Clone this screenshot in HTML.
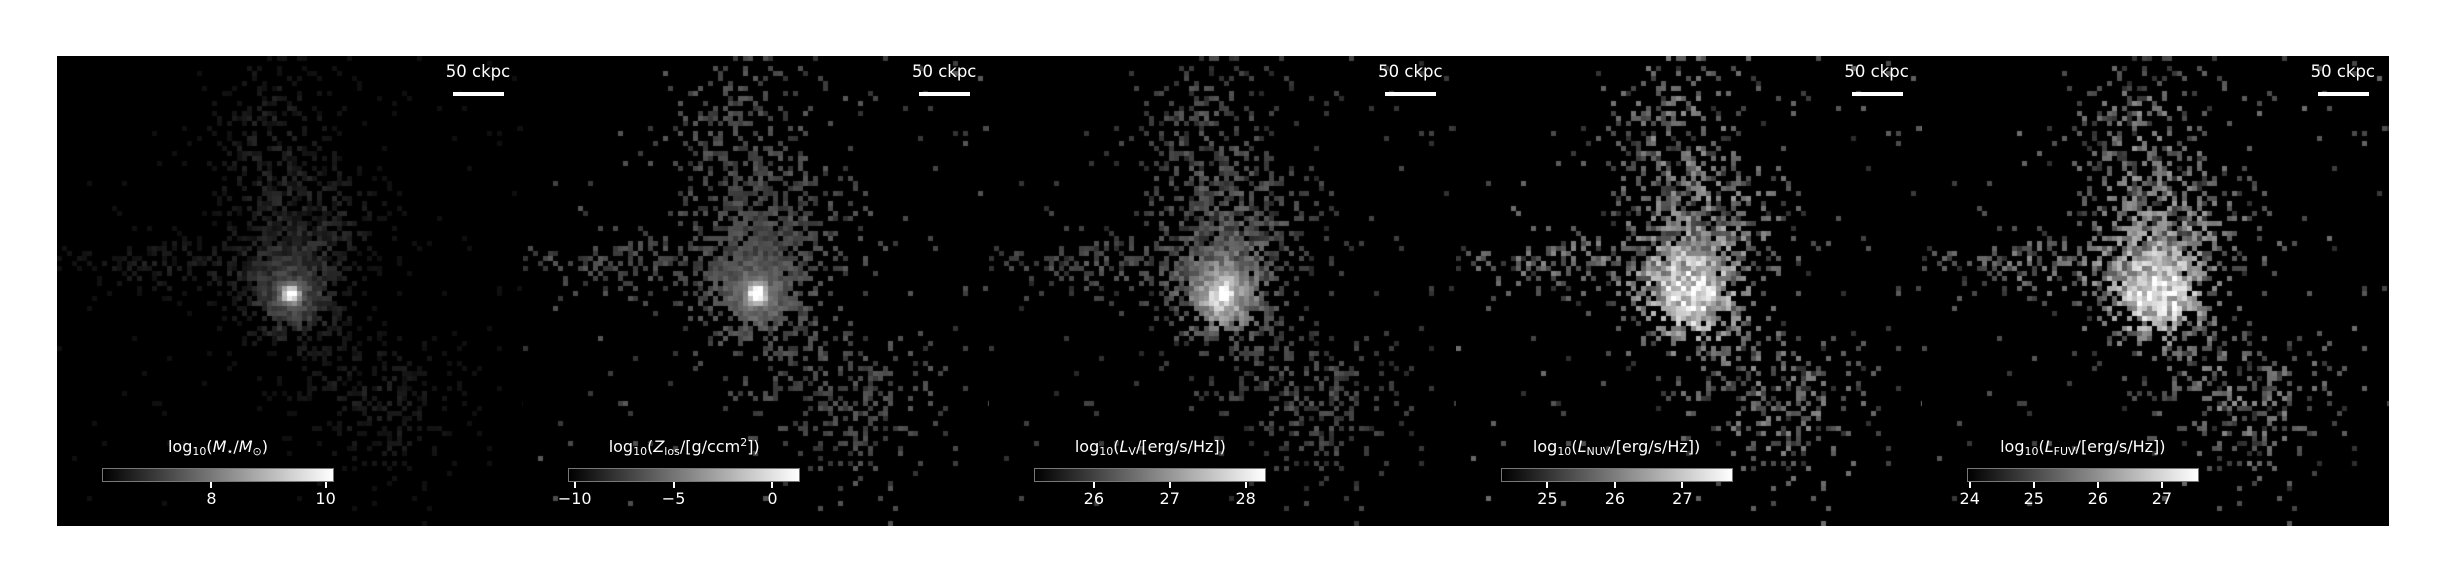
<!DOCTYPE html>
<html><head><meta charset="utf-8">
<style>
body{margin:0;background:#fff;width:2444px;height:584px;overflow:hidden;position:relative;font-family:"DejaVu Sans","Liberation Sans",sans-serif;}
.panel{position:absolute;top:56px;width:467px;height:470px;background:#000;overflow:hidden;}
.panel canvas{position:absolute;left:0;top:0;}
.sbtext{position:absolute;top:6px;width:100px;left:371px;text-align:center;color:#fff;font-size:16.5px;}
.sbar{position:absolute;left:396px;top:36px;width:51px;height:4px;background:#fff;}
.cb{position:absolute;left:45px;top:412px;width:230px;height:12px;border:1px solid #777;background:linear-gradient(to right,#000,#fff);}
.cblabel{position:absolute;top:381px;left:11px;width:300px;text-align:center;color:#fff;font-size:16px;white-space:nowrap;}
.tick{position:absolute;top:426px;width:2px;height:6px;background:#fff;}
.ticklab{position:absolute;top:433px;width:50px;text-align:center;color:#fff;font-size:16px;}
sub{font-size:11px;vertical-align:-3px;line-height:0;}
sup{font-size:11px;vertical-align:6px;line-height:0;}
</style></head><body>
<div id="fig"></div>
<script>
const panelLefts=[57,523.2,989.4,1455.6,1921.8];
const cbMin=[6.1,-10.28,25.23,24.32,23.97];
const cbMax=[10.13,1.35,28.26,27.73,27.56];
const ticks0=[8,10];
const ticks1=[-10,-5,0];
const ticks2=[26,27,28];
const ticks3=[25,26,27];
const ticks4=[24,25,26,27];
const allTicks=[ticks0,ticks1,ticks2,ticks3,ticks4];
const labels=['log<sub>10</sub>(<i>M</i><sub>⋆</sub>/<i>M</i><sub>⊙</sub>)',
'log<sub>10</sub>(<i>Z</i><sub>los</sub>/[g/ccm<sup>2</sup>])',
'log<sub>10</sub>(<i>L</i><sub>V</sub>/[erg/s/Hz])',
'log<sub>10</sub>(<i>L</i><sub>NUV</sub>/[erg/s/Hz])',
'log<sub>10</sub>(<i>L</i><sub>FUV</sub>/[erg/s/Hz])'];
const names=['stellar-mass','metal-column','v-band','nuv','fuv'];
function fmt(v){return v<0?'\u2212'+Math.abs(v):String(v);}
function hash(i,j,k){let h=(i*374761393+j*668265263+k*2147483647)|0;h=(h^(h>>>13))*1274126177|0;h=h^(h>>>16);return ((h>>>0)%100000)/100000;}
function g(x,y,cx,cy,sx,sy){const dx=(x-cx)/sx,dy=(y-cy)/sy;return Math.exp(-0.5*(dx*dx+dy*dy));}
function dens(x,y){
 return 0.6*g(x,y,234,240,35,35)+0.3*g(x,y,220,130,40,70)+0.3*g(x,y,110,210,55,18)
 +0.3*g(x,y,275,165,35,30)+0.28*g(x,y,315,330,45,30)+0.16*g(x,y,335,385,40,25)+0.12*g(x,y,215,60,30,35);
}
const fig=document.getElementById('fig');
panelLefts.forEach((L,k)=>{
 const p=document.createElement('div');p.className='panel';p.style.left=L+'px';
 
 
 fig.appendChild(p);
 const c=document.createElement('canvas');c.width=467;c.height=470;
 
 
 p.appendChild(c);
 const ctx=c.getContext('2d');
 const cs=5;
 for(let i=0;i<94;i++)for(let j=0;j<94;j++){
  const x=i*cs+2.5,y=j*cs+2.5;
  const d=dens(x,y);
  const occ=d>0.5?1:Math.min(0.88,d*1.6)+0.015;
  if(hash(i,j,7)>occ)continue;
  const n=hash(i,j,k+11);
  const core=g(x,y,234,238,6,6), mid=g(x,y,234,240,22,22);
  let v;
  if(k===0) v=15+40*n*Math.min(1,d*2)+45*mid+230*core;
  else if(k===1) v=50+40*n+45*mid+230*core;
  else if(k===2) v=40+80*n*Math.min(1,0.4+d)+110*mid+110*core;
  else v=45+130*n*Math.min(1,0.5+d)+110*g(x,y,236,238,30,30);
  v=Math.max(0,Math.min(255,v))|0;
  ctx.fillStyle='rgb('+v+','+v+','+v+')';
  ctx.fillRect(i*cs,j*cs,cs,cs);
 }
 const st=document.createElement('div');st.className='sbtext';st.textContent='50 ckpc';
 
 
 p.appendChild(st);
 const sb=document.createElement('div');sb.className='sbar';
 
 
 p.appendChild(sb);
 const lb=document.createElement('div');lb.className='cblabel';lb.innerHTML=labels[k];
 
 
 p.appendChild(lb);
 const cb=document.createElement('div');cb.className='cb';
 
 
 p.appendChild(cb);
 allTicks[k].forEach(t=>{
  const px=46+(t-cbMin[k])/(cbMax[k]-cbMin[k])*230;
  const tk=document.createElement('div');tk.className='tick';tk.style.left=(px-1)+'px';
  
  
  p.appendChild(tk);
  const tl=document.createElement('div');tl.className='ticklab';tl.style.left=(px-25)+'px';tl.textContent=fmt(t);
  
  
  p.appendChild(tl);
 });
});
</script>
</body></html>
